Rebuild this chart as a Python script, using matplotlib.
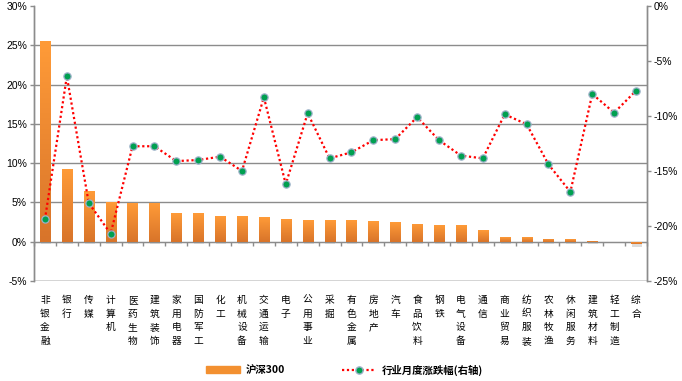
import matplotlib
matplotlib.use("Agg")
import matplotlib.pyplot as plt
import numpy as np
from matplotlib.lines import Line2D
from matplotlib.patches import Patch
from matplotlib.colors import LinearSegmentedColormap

plt.rcParams['font.family'] = ['Liberation Sans', 'Noto Sans CJK SC', 'DejaVu Sans']

categories = ["非银金融", "银行", "传媒", "计算机", "医药生物", "建筑装饰", "家用电器", "国防军工",
              "化工", "机械设备", "交通运输", "电子", "公用事业", "采掘", "有色金属", "房地产",
              "汽车", "食品饮料", "钢铁", "电气设备", "通信", "商业贸易", "纺织服装", "农林牧渔",
              "休闲服务", "建筑材料", "轻工制造", "综合"]
hs300 = [25.5, 9.3, 6.4, 5.0, 4.9, 4.9, 3.6, 3.6, 3.3, 3.3, 3.1, 2.95, 2.8, 2.8, 2.7, 2.6,
         2.45, 2.3, 2.1, 2.1, 1.45, 0.6, 0.6, 0.4, 0.3, 0.15, 0.0, -0.3]
monthly = [-19.4, -6.4, -17.9, -20.7, -12.75, -12.75, -14.1, -14.0, -13.7, -15.0, -8.3, -16.2,
           -9.75, -13.85, -13.3, -12.2, -12.1, -10.1, -12.2, -13.6, -13.85, -9.85, -10.75, -14.4,
           -16.9, -8.0, -9.7, -7.7]
left_ticks = [-5, 0, 5, 10, 15, 20, 25, 30]
right_ticks = [-25, -20, -15, -10, -5, 0]

fig = plt.figure(figsize=(6.82, 3.81), dpi=100)
ax = fig.add_axes([34/682, 1-281/381, (647-34)/682, (281-6)/381])
ax2 = ax.twinx()

x = np.arange(len(categories))
grid_c = '#8C8C8C'
for v in left_ticks[:-1]:
    ax.axhline(v, color=grid_c, lw=1.0, zorder=1)

bars = ax.bar(x, hs300, width=0.46, color='#F39030', zorder=3, edgecolor='none')
grad = np.linspace(0, 1, 256).reshape(-1, 1)
cmap = LinearSegmentedColormap.from_list('o', ['#D8742A', '#FF9B38'])
for b in bars:
    bx, by, bw, bh = b.get_x(), b.get_y(), b.get_width(), b.get_height()
    if bh == 0:
        continue
    y0, y1 = min(by, by + bh), max(by, by + bh)
    sh = plt.Rectangle((bx + 0.04, y0 - 0.35), bw, y1 - y0 + 0.1, color='#BBBBBB', alpha=0.5,
                       zorder=2, lw=0)
    ax.add_patch(sh)
    im = ax.imshow(grad, extent=[bx, bx + bw, y0, y1], origin='lower', cmap=cmap,
                   aspect='auto', zorder=3.5)
    im.set_clip_path(b)

ax.set_xlim(-0.5, len(categories) - 0.5)
ax.set_ylim(-5, 30)
ax.set_yticks(left_ticks)
ax.set_yticklabels([f"{v}%" for v in left_ticks])
ax2.set_ylim(-25, 0)
ax2.set_yticks(right_ticks)
ax2.set_yticklabels([f"{v}%" for v in right_ticks])

ax2.plot(x, monthly, color='#FF0000', ls=(0, (1, 1.2)), lw=1.6, zorder=4)
ax2.plot(x, monthly, ls='none', marker='o', ms=5.2, mfc='#00A050', mec='#9AB0C8', mew=0.9,
         zorder=5)

for a in (ax, ax2):
    a.spines['top'].set_visible(False)
    for s in ('left', 'right'):
        a.spines[s].set_color(grid_c)
        a.spines[s].set_linewidth(1.0)
    a.tick_params(axis='y', length=3, width=1, color=grid_c, labelsize=7.5, pad=2,
                  labelcolor='#000000')
ax.spines['bottom'].set_position(('data', 0))
ax.spines['bottom'].set_color(grid_c)
ax2.spines['bottom'].set_visible(False)
ax.set_xticks(x)
ax.set_xticklabels([])
ax.tick_params(axis='x', which='major', length=0)
ax.set_xticks(np.arange(-0.5, len(categories), 1), minor=True)
ax.tick_params(axis='x', which='minor', length=3, width=1, color=grid_c, direction='out')
ax.axhline(-5, color=grid_c, lw=1.0, zorder=1)

trans = ax.get_xaxis_transform()
for i, c in enumerate(categories):
    ax.text(i, -0.05, "\n".join(c), transform=trans, ha='center', va='top', fontsize=7,
            family=['Noto Sans CJK SC', 'DejaVu Sans'], linespacing=1.47)

handles = [Patch(color='#F39030'),
           Line2D([0], [0], color='#FF0000', ls=(0, (1, 1.2)), lw=1.6, marker='o', ms=5.2,
                  mfc='#00A050', mec='#9AB0C8', markevery=[1])]
leg = fig.legend(handles, ["沪深300", "行业月度涨跌幅(右轴)"], loc='center', ncol=2,
                 bbox_to_anchor=(0.505, 11/381), frameon=False, handlelength=3.3,
                 handleheight=0.6, columnspacing=5.5, handletextpad=0.5,
                 prop={'family': ['Noto Sans CJK SC', 'DejaVu Sans'], 'weight': 'bold',
                       'size': 7.5})

fig.savefig("out.png", dpi=100)
